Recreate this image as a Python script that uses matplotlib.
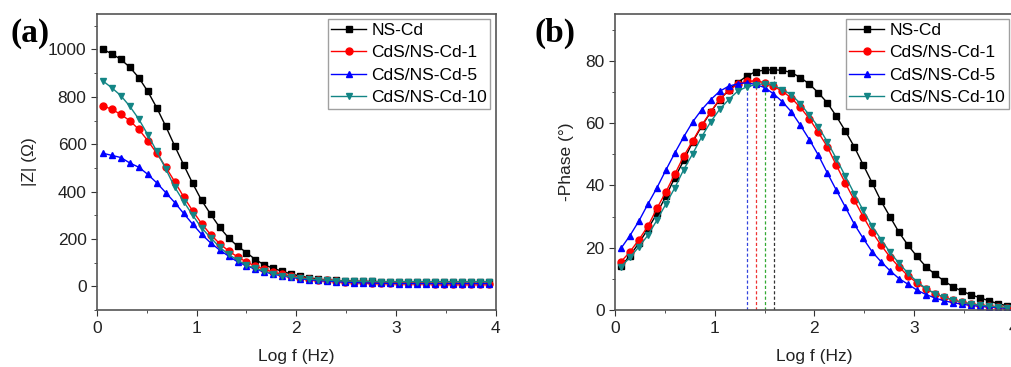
"""
Bode plots: |Z| and -Phase vs Log f for NS-Cd and CdS/NS-Cd samples
"""
import matplotlib
matplotlib.use('Agg')
import matplotlib.pyplot as plt
from matplotlib.ticker import MultipleLocator

# log f (Hz) sampling points
log_f = [0.06, 0.15, 0.24, 0.33, 0.42, 0.51, 0.60, 0.69, 0.78, 0.87,
         0.96, 1.05, 1.14, 1.23, 1.32, 1.41, 1.50, 1.59, 1.68, 1.77,
         1.86, 1.95, 2.04, 2.13, 2.22, 2.31, 2.40, 2.49, 2.58, 2.67,
         2.76, 2.85, 2.94, 3.03, 3.12, 3.21, 3.30, 3.39, 3.48, 3.57,
         3.66, 3.75, 3.84, 3.93]

labels = ['NS-Cd', 'CdS/NS-Cd-1', 'CdS/NS-Cd-5', 'CdS/NS-Cd-10']

# |Z| (ohm)
z_ns = [1000, 982, 958, 925, 881, 823, 754, 676, 593, 513,
        435, 363, 305, 250, 205, 170, 143, 113, 91, 76,
        64, 52, 44, 36, 31, 27, 25, 23, 22, 21,
        21, 20, 20, 20, 20, 20, 20, 20, 20, 20,
        20, 20, 20, 20]
z_1 = [763, 747, 726, 699, 663, 615, 562, 504, 442, 378,
       319, 265, 219, 181, 150, 125, 103, 86, 72, 60,
       51, 43, 37, 32, 28, 25, 22, 20, 18, 17,
       16, 15, 14, 14, 13, 13, 13, 12, 12, 12,
       12, 12, 12, 12]
z_5 = [562, 553, 544, 521, 503, 473, 437, 396, 354, 308,
       263, 220, 184, 154, 128, 104, 87, 73, 61, 52,
       44, 38, 33, 28, 25, 22, 20, 18, 16, 15,
       14, 13, 13, 12, 12, 12, 12, 12, 12, 12,
       12, 12, 12, 12]
z_10 = [867, 838, 805, 760, 706, 640, 570, 496, 419, 358,
        301, 247, 206, 166, 135, 111, 90, 76, 64, 54,
        46, 40, 35, 31, 28, 26, 24, 23, 22, 21,
        21, 20, 20, 20, 20, 20, 20, 20, 20, 20,
        20, 20, 20, 20]

# -Phase (deg)
ph_ns = [14, 17.5, 21.5, 26, 31, 36.5, 42.5, 48, 54, 59,
         63.5, 67.5, 70.5, 73, 75, 76.5, 77, 77.1, 76.9, 76.2,
         74.6, 72.5, 69.7, 66.5, 62.2, 57.5, 52.4, 46.6, 40.8, 34.9,
         29.9, 24.9, 20.8, 17.2, 13.9, 11.5, 9.4, 7.5, 6.1, 4.9,
         4.0, 3.0, 2.1, 1.4]
ph_1 = [15.5, 18.7, 22.6, 26.9, 32.6, 37.9, 43.6, 49.4, 54.3, 59.3,
        63.6, 67.6, 70.5, 72.4, 73.4, 73.5, 73.0, 71.8, 70.2, 68.0,
        65.0, 61.4, 57.0, 52.4, 46.5, 40.8, 35.3, 30.0, 25.0, 20.8,
        17.0, 13.8, 11.0, 8.7, 6.8, 5.3, 4.2, 3.3, 2.6, 2.0,
        1.6, 1.3, 1.0, 0.8]
ph_5 = [19.8, 23.9, 28.6, 34.0, 39.2, 44.9, 50.4, 55.6, 60.4, 64.3,
        67.5, 70.2, 71.8, 72.6, 72.9, 72.4, 71.4, 69.4, 66.8, 63.6,
        59.3, 54.7, 49.7, 44.0, 38.5, 33.1, 27.6, 23.0, 18.7, 15.5,
        12.6, 10.1, 8.3, 6.4, 5.0, 3.9, 3.0, 2.4, 1.9, 1.5,
        1.2, 1.0, 0.8, 0.6]
ph_10 = [13.9, 16.9, 20.3, 24.0, 28.8, 34.0, 39.2, 45.1, 50.2, 55.6,
         60.4, 64.4, 67.5, 70.2, 71.6, 72.3, 72.6, 72.1, 70.7, 69.1,
         66.2, 62.5, 58.8, 54.0, 48.6, 43.0, 37.4, 32.0, 26.9, 22.6,
         18.5, 15.0, 11.8, 9.1, 6.9, 5.3, 4.1, 3.2, 2.5, 2.0,
         1.6, 1.3, 1.0, 0.8]

# peak frequencies (dashed markers) and their heights
peak_f = [1.32, 1.41, 1.50, 1.60]
peak_h = [72.9, 73.5, 72.8, 77.1]
peak_colors = ['#3344dd', '#ee3333', '#33aa33', '#333333']

colors = ['black', '#ff0000', '#0000ff', '#138585']
markers = ['s', 'o', '^', 'v']

plt.rcParams['font.family'] = ['Liberation Sans', 'DejaVu Sans']
FS = 12.5

fig = plt.figure(figsize=(10.12, 3.67), dpi=100)
ax1 = fig.add_axes([0.0958, 0.155, 0.394, 0.807])
ax2 = fig.add_axes([0.6077, 0.155, 0.394, 0.807])

for ax, series in [(ax1, [z_ns, z_1, z_5, z_10]),
                   (ax2, [ph_ns, ph_1, ph_5, ph_10])]:
    for y, c, m, lab in zip(series, colors, markers, labels):
        ax.plot(log_f, y, color=c, marker=m, markersize=5, linewidth=1,
                label=lab)
    ax.set_xlim(0, 4)
    ax.xaxis.set_major_locator(MultipleLocator(1))
    ax.xaxis.set_minor_locator(MultipleLocator(0.5))
    ax.tick_params(which='both', direction='out', top=False, right=False,
                   colors='#333333', labelcolor='#222222', labelsize=FS)
    ax.tick_params(which='major', length=4)
    ax.tick_params(which='minor', length=2.5)
    for s in ax.spines.values():
        s.set_color('#555555')
        s.set_linewidth(1.2)
    ax.set_xlabel('Log f (Hz)', fontsize=FS, color='#222222', labelpad=10)
    leg = ax.legend(loc='upper right', fontsize=FS, frameon=True,
                    fancybox=False, edgecolor='#888888', handlelength=2.0,
                    borderpad=0.2, labelspacing=0.42, handletextpad=0.3,
                    borderaxespad=0.3)
    leg.get_frame().set_linewidth(1.0)

ax1.set_ylim(-100, 1150)
ax1.yaxis.set_major_locator(MultipleLocator(200))
ax1.yaxis.set_minor_locator(MultipleLocator(100))
ax1.set_ylabel('|Z| (Ω)', fontsize=FS, color='#222222', labelpad=8)

ax2.set_ylim(0, 95)
ax2.yaxis.set_major_locator(MultipleLocator(20))
ax2.yaxis.set_minor_locator(MultipleLocator(10))
ax2.set_ylabel('-Phase (°)', fontsize=FS, color='#222222', labelpad=8)

for xf, h, c in zip(peak_f, peak_h, peak_colors):
    ax2.plot([xf, xf], [0, h], color=c, linestyle='--', linewidth=0.9,
             dashes=(2.5, 1.8), zorder=1)

fig.text(0.010, 0.885, '(a)', fontsize=24, fontweight='bold',
         family='Liberation Serif')
fig.text(0.528, 0.885, '(b)', fontsize=24, fontweight='bold',
         family='Liberation Serif')

fig.savefig('out.png', dpi=100)
